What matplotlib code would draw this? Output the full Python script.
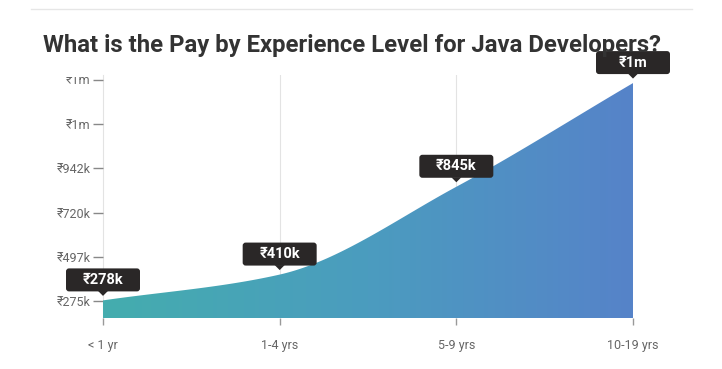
import numpy as np
import matplotlib
matplotlib.use("Agg")
import matplotlib.pyplot as plt
from matplotlib.colors import LinearSegmentedColormap
from matplotlib.patches import Polygon, Rectangle, FancyBboxPatch
from matplotlib.transforms import ScaledTranslation, offset_copy

plt.rcParams['font.family'] = ['Roboto', 'DejaVu Sans']

categories = ['< 1 yr', '1-4 yrs', '5-9 yrs', '10-19 yrs']
pay = [278000, 408000, 850000, 1372000]
pay_labels = ['₹278k', '₹410k', '₹845k', '₹1m']
y_ticks = [275000, 497500, 720000, 942500, 1165000, 1387500]
y_tick_labels = ['₹275k', '₹497k', '₹720k', '₹942k', '₹1m', '₹1m']
title = 'What is the Pay by Experience Level for Java Developers?'


def monotone_curve(xs, ys, n=200):
    # Fritsch-Carlson monotone cubic, like a d3 monotone line
    xs = np.asarray(xs, float)
    ys = np.asarray(ys, float)
    h = np.diff(xs)
    d = np.diff(ys) / h
    m = np.zeros_like(ys)
    m[0], m[-1] = d[0], d[-1]
    for i in range(1, len(ys) - 1):
        if d[i - 1] * d[i] <= 0:
            m[i] = 0
        else:
            w1 = 2 * h[i] + h[i - 1]
            w2 = h[i] + 2 * h[i - 1]
            m[i] = (w1 + w2) / (w1 / d[i - 1] + w2 / d[i])
    xx = np.linspace(xs[0], xs[-1], n)
    yy = np.empty_like(xx)
    for k, x in enumerate(xx):
        i = min(np.searchsorted(xs, x, side='right') - 1, len(xs) - 2)
        t = (x - xs[i]) / h[i]
        h00 = 2 * t**3 - 3 * t**2 + 1
        h10 = t**3 - 2 * t**2 + t
        h01 = -2 * t**3 + 3 * t**2
        h11 = t**3 - t**2
        yy[k] = h00 * ys[i] + h10 * h[i] * m[i] + h01 * ys[i + 1] + h11 * h[i] * m[i + 1]
    return xx, yy


fig = plt.figure(figsize=(7.22, 3.69), dpi=100)
fig.patch.set_facecolor('white')

# thin rule at the top of the card
fig.add_artist(plt.Line2D([31 / 722, 692 / 722], [1 - 9 / 369] * 2, color='#e6e6e6', lw=1))
fig.text(43 / 722, 1 - 52 / 369, title, fontsize=17.2, fontweight='bold', color='#333333',
         va='baseline')

ax = fig.add_axes([103 / 722, 1 - 318 / 369, 530 / 722, 243 / 369])
x = np.arange(len(categories))
ymin, ymax = 189400, 1412700
ax.set_xlim(0, len(categories) - 1)
ax.set_ylim(ymin, ymax)

xx, yy = monotone_curve(x, pay)
cmap = LinearSegmentedColormap.from_list('pay', ['#44adae', '#4b9cbf', '#5683c9'])
grad = np.linspace(0, 1, 256).reshape(1, -1)
im = ax.imshow(grad, cmap=cmap, aspect='auto', extent=[0, len(categories) - 1, ymin, ymax],
               zorder=2, interpolation='bilinear')
verts = np.column_stack([np.r_[xx, xx[-1], xx[0]], np.r_[yy, ymin, ymin]])
poly = Polygon(verts, closed=True, facecolor='none', edgecolor='none', transform=ax.transData)
ax.add_patch(poly)
im.set_clip_path(poly)

for xv in x[1:-1]:
    ax.axvline(xv, color='#e3e3e3', lw=0.8, zorder=1)

for s in ['top', 'right', 'bottom']:
    ax.spines[s].set_visible(False)
ax.spines['left'].set_color('#e3e3e3')
ax.spines['left'].set_zorder(1)

ax.set_yticks(y_ticks)
# the top label is drawn by hand below so it can be cut off like in the reference
ax.set_yticklabels(y_tick_labels[:-1] + [''])
ax.set_xticks(x)
ax.set_xticklabels(categories)
ax.tick_params(axis='y', length=7, width=1, color='#888888', pad=2, labelsize=9, labelcolor='#666666')
ax.tick_params(axis='x', length=5, width=1, color='#999999', pad=10, labelsize=9, labelcolor='#666666')

top_tr = offset_copy(ax.get_yaxis_transform(), fig=fig, x=-9, y=0, units='points')
top_lab = ax.text(0, y_ticks[-1], y_tick_labels[-1], transform=top_tr, ha='right', va='center',
                  fontsize=9, color='#666666')
clip = Rectangle((0, 0), 1, 1 - 77 / 369, transform=fig.transFigure)
top_lab.set_clip_path(clip)
top_lab.set_clip_on(True)

# dark value boxes with a small pointer, sized in inches (1 in = 100 px)
for xv, yv, lab in zip(x, pay, pay_labels):
    tr = fig.dpi_scale_trans + ScaledTranslation(xv, yv, ax.transData)
    box = FancyBboxPatch((-0.37 + 0.03, 0.09 + 0.03), 0.74 - 0.06, 0.23 - 0.06,
                         boxstyle='round,pad=0.03', fc='#2a2727', ec='none',
                         transform=tr, clip_on=False, zorder=5)
    ax.add_patch(box)
    tip = Polygon([[-0.05, 0.095], [0.05, 0.095], [0, 0.045]], closed=True,
                  fc='#2a2727', ec='none', transform=tr, clip_on=False, zorder=5)
    ax.add_patch(tip)
    ax.text(0, 0.205, lab, transform=tr, ha='center', va='center', fontsize=10.5,
            fontweight='bold', color='white', zorder=6, clip_on=False)

fig.savefig('out.png', dpi=100)
